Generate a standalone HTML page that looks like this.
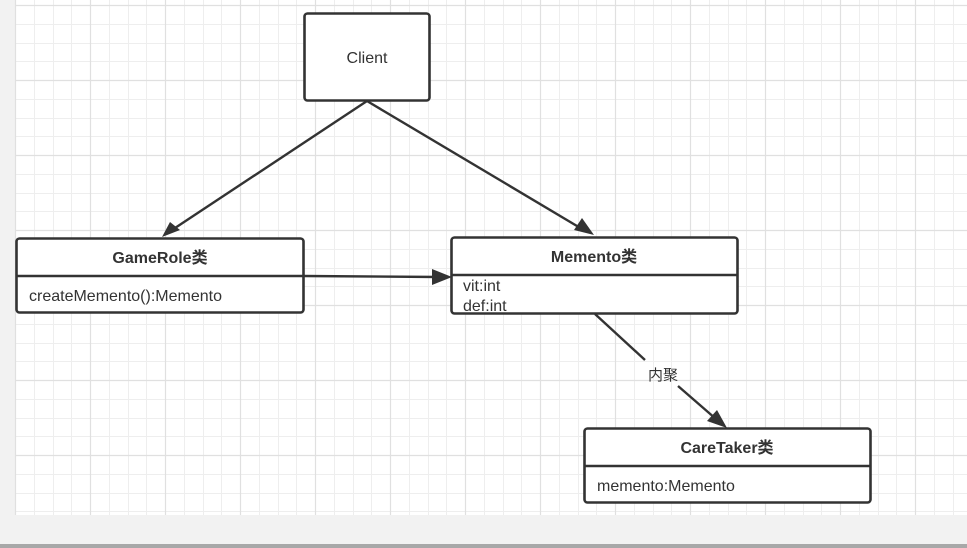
<!DOCTYPE html>
<html><head><meta charset="utf-8"><style>
html,body{margin:0;padding:0;width:967px;height:548px;overflow:hidden;background:#f2f2f2}
svg{display:block}
text{font-family:"Liberation Sans","Noto Sans CJK SC",sans-serif;fill:#333}
</style></head><body>
<svg width="967" height="548" xmlns="http://www.w3.org/2000/svg">
<rect x="15" y="0" width="952" height="515" fill="#fff"/>
<g stroke="#eeeeee" stroke-width="1" fill="none">
<path d="M34.5 0V515M53.5 0V515M71.5 0V515M109.5 0V515M128.5 0V515M146.5 0V515M184.5 0V515M203.5 0V515M221.5 0V515M259.5 0V515M278.5 0V515M296.5 0V515M334.5 0V515M353.5 0V515M371.5 0V515M409.5 0V515M428.5 0V515M446.5 0V515M484.5 0V515M503.5 0V515M521.5 0V515M559.5 0V515M578.5 0V515M596.5 0V515M634.5 0V515M653.5 0V515M671.5 0V515M709.5 0V515M728.5 0V515M746.5 0V515M784.5 0V515M803.5 0V515M821.5 0V515M859.5 0V515M878.5 0V515M896.5 0V515M934.5 0V515M953.5 0V515"/>
<path d="M15 24.5H967M15 43.5H967M15 61.5H967M15 99.5H967M15 118.5H967M15 136.5H967M15 174.5H967M15 193.5H967M15 211.5H967M15 249.5H967M15 268.5H967M15 286.5H967M15 324.5H967M15 343.5H967M15 361.5H967M15 399.5H967M15 418.5H967M15 436.5H967M15 474.5H967M15 493.5H967M15 511.5H967"/>
</g>
<g stroke="#e0e0e0" stroke-width="1.2" fill="none">
<path d="M15.5 0V515M90.5 0V515M165.5 0V515M240.5 0V515M315.5 0V515M390.5 0V515M465.5 0V515M540.5 0V515M615.5 0V515M690.5 0V515M765.5 0V515M840.5 0V515M915.5 0V515"/>
<path d="M15 5.5H967M15 80.5H967M15 155.5H967M15 230.5H967M15 305.5H967M15 380.5H967M15 455.5H967"/>
</g>
<rect x="0" y="544" width="967" height="4" fill="#a8a8a8"/>

<g stroke="#333" stroke-width="2.4" fill="none">
<line x1="367" y1="101" x2="172" y2="230"/>
<line x1="367" y1="101" x2="582" y2="229"/>
<line x1="304" y1="276" x2="440" y2="277"/>
<line x1="595" y1="314" x2="645" y2="360"/>
<line x1="678" y1="386" x2="716" y2="419"/>
</g>
<g fill="#333">
<polygon points="162,237 170,222 180,230"/>
<polygon points="594,235 574,230 582,218"/>
<polygon points="452,277 432,269 432,285"/>
<polygon points="727,428 707,421 717,410"/>
</g>
<text x="663" y="380" font-size="15" text-anchor="middle">内聚</text>

<g stroke="#333" stroke-width="2.6" fill="#fff">
<rect x="304.5" y="13.5" width="125" height="87" rx="3"/>
<rect x="16.5" y="238.5" width="287" height="74" rx="3"/>
<rect x="451.5" y="237.5" width="286" height="76" rx="3"/>
<rect x="584.5" y="428.5" width="286" height="74" rx="3"/>
<line x1="16.5" y1="276" x2="303.5" y2="276"/>
<line x1="451.5" y1="275" x2="737.5" y2="275"/>
<line x1="584.5" y1="466" x2="870.5" y2="466"/>
</g>
<text x="367" y="63" font-size="16" text-anchor="middle">Client</text>
<text x="160" y="263" font-size="16" font-weight="bold" text-anchor="middle">GameRole类</text>
<text x="29" y="301" font-size="16">createMemento():Memento</text>
<text x="594" y="262" font-size="16" font-weight="bold" text-anchor="middle">Memento类</text>
<text x="463" y="291" font-size="16">vit:int</text>
<text x="463" y="311" font-size="16">def:int</text>
<text x="727" y="453" font-size="16" font-weight="bold" text-anchor="middle">CareTaker类</text>
<text x="597" y="491" font-size="16">memento:Memento</text>
</svg>
</body></html>
